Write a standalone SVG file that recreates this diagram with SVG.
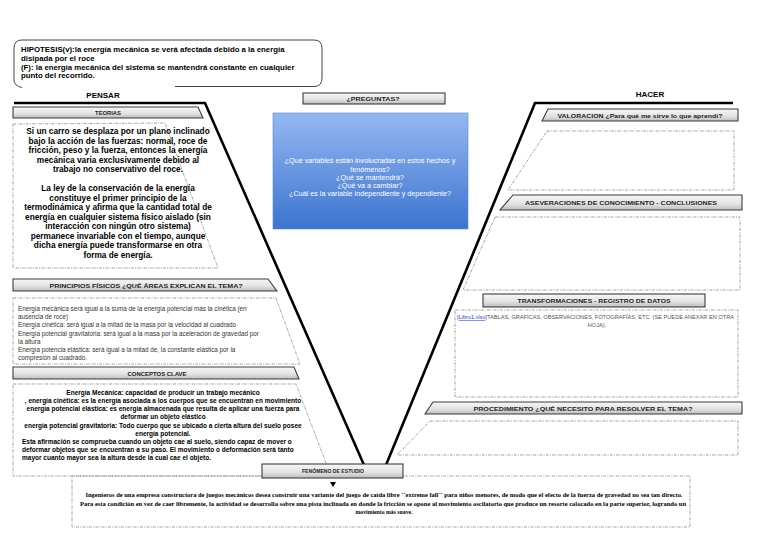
<svg xmlns="http://www.w3.org/2000/svg" width="768" height="533" viewBox="0 0 768 533">
<defs>
<linearGradient id="bg" x1="0" y1="0" x2="0" y2="1">
<stop offset="0" stop-color="#f7f7f7"/>
<stop offset="0.6" stop-color="#e2e2e2"/>
<stop offset="1" stop-color="#bdbdbd"/>
</linearGradient>
<linearGradient id="blue" x1="0" y1="0" x2="0" y2="1">
<stop offset="0" stop-color="#95b8f2"/>
<stop offset="1" stop-color="#3c74cf"/>
</linearGradient>
<style>
.bar{fill:url(#bg);stroke:#3d3d3d;stroke-width:1.1}
.dash{fill:none;stroke:#8a8a8a;stroke-width:0.8;stroke-dasharray:3 1.2 1 1.2}
.thick{fill:none;stroke:#000;stroke-width:2.6;stroke-linejoin:miter}
.lbl{font-family:"Liberation Sans",Arial,sans-serif;font-weight:bold;font-size:5.8px;fill:#222;text-anchor:middle}
.hy{font-family:"Liberation Sans",Arial,sans-serif;font-weight:bold;font-size:7.8px;fill:#000}
.b7{font-family:"Liberation Sans",Arial,sans-serif;font-weight:bold;font-size:8.3px;fill:#000}
.b6{font-family:"Liberation Sans",Arial,sans-serif;font-weight:bold;font-size:6.5px;fill:#000}
.r6{font-family:"Liberation Sans",Arial,sans-serif;font-size:6.3px;fill:#333}
.q{font-family:"Liberation Sans",Arial,sans-serif;font-size:7.2px;fill:#fff;text-anchor:middle}
.h{font-family:"Liberation Sans",Arial,sans-serif;font-weight:bold;font-size:8px;fill:#000;text-anchor:middle}
.desc{font-family:"Liberation Serif","Times New Roman",serif;font-weight:bold;font-size:6px;fill:#000;text-anchor:middle}
</style>
</defs>
<rect width="768" height="533" fill="#fff"/>

<g id="connectors">
<polyline class="thick" points="14,103 205,103 364,465"/>
<polyline class="thick" points="733,103 535,103 386,465"/>
<polygon points="330,482 336,482 333,487" fill="#000"/>
</g>

<g id="hipotesis">
<path d="M175,86.5 H314 Q322,86.5 322,78 V48 Q322,40 314,40 H22 Q14,40 14,48 V80 Q14,86 22,87.5" fill="none" stroke="#444" stroke-width="1"/>
<text class="hy" x="21" y="52">HIPOTESIS(v):la energía mecánica se verá afectada debido a la energía</text>
<text class="hy" x="21" y="60.5">disipada por el roce</text>
<text class="hy" x="21" y="69.5">(F): la energía mecánica del sistema se mantendrá constante en cualquier</text>
<text class="hy" x="21" y="78">punto del recorrido.</text>
</g>

<g id="pensar"><text class="h" x="103" y="98">PENSAR</text></g>
<g id="hacer"><text class="h" x="650" y="97">HACER</text></g>

<g id="teorias">
<polygon class="bar" points="13,107 198,107 203,118 13,118"/>
<text class="lbl" x="108" y="115">TEORIAS</text>
<polygon class="dash" points="13,124 165,123 218,268 13,268"/>
<g class="b7" text-anchor="middle">
<text x="118" y="134">Si un carro se desplaza por un plano inclinado</text>
<text x="118" y="143.5">bajo la acción de las fuerzas: normal, roce de</text>
<text x="118" y="153">fricción, peso y la fuerza, entonces la energía</text>
<text x="118" y="162.5">mecánica varia exclusivamente debido al</text>
<text x="118" y="172">trabajo no conservativo del roce.</text>
<text x="118" y="191">La ley de la conservación de la energía</text>
<text x="118" y="200.5">constituye el primer principio de la</text>
<text x="118" y="210">termodinámica y afirma que la cantidad total de</text>
<text x="118" y="219.5">energía en cualquier sistema físico aislado (sin</text>
<text x="118" y="229">interacción con ningún otro sistema)</text>
<text x="118" y="238.5">permanece invariable con el tiempo, aunque</text>
<text x="118" y="248">dicha energía puede transformarse en otra</text>
<text x="118" y="257.5">forma de energía.</text>
</g>
</g>

<g id="principios">
<polygon class="bar" points="13,279 268,279 277,291 13,291"/>
<text class="lbl" x="146" y="287.5" textLength="193" lengthAdjust="spacingAndGlyphs">PRINCIPIOS FÍSICOS ¿QUÉ ÁREAS EXPLICAN EL TEMA?</text>
<polygon class="dash" points="13,298 276,298 300,364 13,364"/>
<text class="r6" x="18" y="311">Energía mecánica será igual a la suma de la energía potencial más la cinética (en</text>
<text class="r6" x="18" y="319">ausencia de roce)</text>
<text class="r6" x="18" y="327">Energía cinética: será igual a la mitad de la masa por la velocidad al cuadrado</text>
<text class="r6" x="18" y="335.5">Energía potencial gravitatoria: será igual a la masa por la aceleración de gravedad por</text>
<text class="r6" x="18" y="343.5">la altura</text>
<text class="r6" x="18" y="352">Energía potencia elástica: será igual a la mitad de, la constante elástica por la</text>
<text class="r6" x="18" y="360">compresión al cuadrado.</text>
</g>

<g id="conceptos">
<polygon class="bar" points="13,367 294,367 299,379 13,379"/>
<text class="lbl" x="157" y="375.5" textLength="59" lengthAdjust="spacingAndGlyphs">CONCEPTOS CLAVE</text>
<polygon class="dash" points="13,384 296,384 331,476 13,476"/>
<g class="b6" text-anchor="middle">
<text x="163" y="395">Energía Mecánica: capacidad de producir un trabajo mecánico</text>
<text x="163" y="403">, energía cinética: es la energía asociada a los cuerpos que se encuentran en movimiento</text>
<text x="163" y="411">energía potencial elástica: es energía almacenada que resulta de aplicar una fuerza para</text>
<text x="163" y="419">deformar un objeto elástico</text>
<text x="163" y="427.5">energía potencial gravitatoria: Todo cuerpo que se ubicado a cierta altura del suelo posee</text>
<text x="163" y="435.5">energía potencial.</text>
</g>
<text class="b6" x="22" y="444">Esta afirmación se comprueba cuando un objeto cae al suelo, siendo capaz de mover o</text>
<text class="b6" x="22" y="452">deformar objetos que se encuentran a su paso. El movimiento o deformación será tanto</text>
<text class="b6" x="22" y="460">mayor cuanto mayor sea la altura desde la cual cae el objeto.</text>
</g>

<g id="preguntas">
<rect class="bar" x="303" y="93" width="142" height="11"/>
<text class="lbl" x="373" y="100.8" textLength="53" lengthAdjust="spacingAndGlyphs">¿PREGUNTAS?</text>
<rect x="273" y="113" width="195" height="116" fill="url(#blue)" stroke="#5a85cc" stroke-width="0.6"/>
<text class="q" x="370" y="163">¿Qué variables están involucradas en estos hechos y</text>
<text class="q" x="370" y="171.5">fenómenos?</text>
<text class="q" x="370" y="180">¿Qué se mantendrá?</text>
<text class="q" x="370" y="188">¿Qué va a cambiar?</text>
<text class="q" x="370" y="196">¿Cuál es la variable independiente y dependiente?</text>
</g>

<g id="valoracion">
<polygon class="bar" points="548,109 738,109 738,121 542,121"/>
<text class="lbl" x="640" y="117.5" textLength="165" lengthAdjust="spacingAndGlyphs">VALORACION ¿Para qué me sirve lo que aprendí?</text>
<polygon class="dash" points="547,131 734,131 734,190 508,190"/>
</g>

<g id="aseveraciones">
<polygon class="bar" points="513,195 742,195 742,210 500,210"/>
<text class="lbl" x="621" y="204.5" textLength="192" lengthAdjust="spacingAndGlyphs">ASEVERACIONES DE CONOCIMIENTO - CONCLUSIONES</text>
<polygon class="dash" points="495,217 740,217 740,290 463,290"/>
</g>

<g id="transformaciones">
<rect class="bar" x="483" y="294" width="222" height="13"/>
<text class="lbl" x="594" y="302.5" textLength="153" lengthAdjust="spacingAndGlyphs">TRANSFORMACIONES - REGISTRO DE DATOS</text>
<rect class="dash" x="455" y="310" width="283" height="87"/>
<text x="457" y="319" font-family="'Liberation Sans',Arial,sans-serif" font-size="5.6px" fill="#555" textLength="277" lengthAdjust="spacingAndGlyphs">[<tspan fill="#2a3fd6" text-decoration="underline">Libro1.xlsx</tspan>]TABLAS, GRAFICAS, OBSERVACIONES, FOTOGRAFÍAS, ETC. (SE PUEDE ANEXAR EN OTRA</text>
<text x="597" y="327" font-family="'Liberation Sans',Arial,sans-serif" font-size="5.6px" fill="#555" text-anchor="middle">HOJA).</text>
</g>

<g id="procedimiento">
<polygon class="bar" points="433,402 742,402 742,414 425,414"/>
<text class="lbl" x="583" y="410.5" textLength="219" lengthAdjust="spacingAndGlyphs">PROCEDIMIENTO ¿QUÉ NECESITO PARA RESOLVER EL TEMA?</text>
<polygon class="dash" points="430,421 738,421 738,455 397,455"/>
</g>

<g id="fenomeno">
<rect class="dash" x="72" y="476" width="618" height="51"/>
<rect class="bar" x="262" y="464" width="141" height="14"/>
<text class="lbl" x="333" y="473" textLength="62" lengthAdjust="spacingAndGlyphs">FENÓMENO DE ESTUDIO</text>
<text class="desc" x="384" y="497" textLength="597" lengthAdjust="spacingAndGlyphs">Ingenieros de una empresa constructora de juegos mecánicos desea construir una variante del juego de caída libre ``extreme fall´´ para niños menores, de modo que el efecto de la fuerza de gravedad no sea tan directo.</text>
<text class="desc" x="383" y="505.5" textLength="606" lengthAdjust="spacingAndGlyphs">Para esta condición en vez de caer libremente, la actividad se desarrolla sobre una pista inclinada en donde la fricción se opone al movimiento oscilatorio que produce un resorte colocado en la parte superior, logrando un</text>
<text class="desc" x="384" y="514" textLength="57" lengthAdjust="spacingAndGlyphs">movimiento más suave.</text>
</g>
</svg>
